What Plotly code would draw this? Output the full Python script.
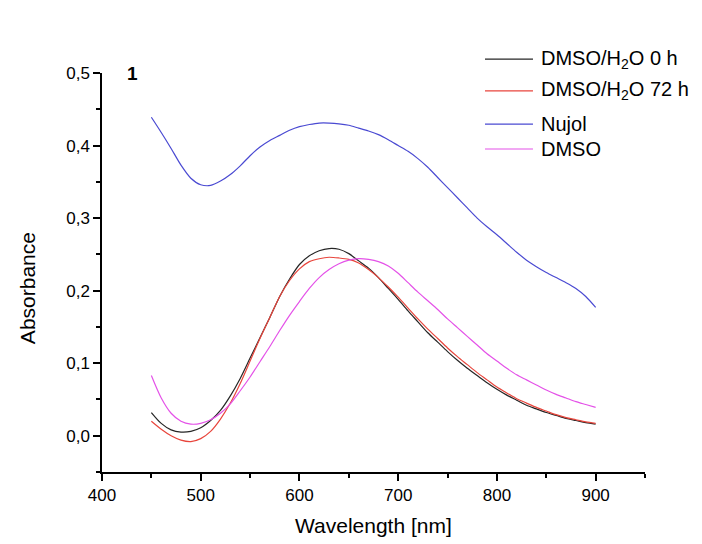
import plotly.graph_objects as go

wavelength = [450, 460, 470, 480, 490, 500, 510, 520, 530, 540, 550, 560, 570, 580, 590,
              600, 610, 620, 630, 640, 650, 660, 670, 680, 690, 700, 710, 720, 730, 740,
              750, 760, 770, 780, 790, 800, 810, 820, 830, 840, 850, 860, 870, 880, 890, 900]

dmso_h2o_0h = [0.032, 0.017, 0.008, 0.005, 0.006, 0.011, 0.021, 0.035, 0.055, 0.079, 0.107,
               0.135, 0.163, 0.192, 0.216, 0.236, 0.248, 0.255, 0.258, 0.257, 0.251, 0.241,
               0.231, 0.218, 0.203, 0.188, 0.172, 0.157, 0.142, 0.129, 0.116, 0.104, 0.093,
               0.083, 0.073, 0.064, 0.056, 0.049, 0.042, 0.037, 0.032, 0.028, 0.024, 0.021,
               0.018, 0.016]

dmso_h2o_72h = [0.020, 0.009, 0.000, -0.006, -0.008, -0.004, 0.006, 0.023, 0.045, 0.072,
                0.103, 0.134, 0.163, 0.192, 0.214, 0.230, 0.240, 0.244, 0.246, 0.245, 0.243,
                0.238, 0.229, 0.218, 0.205, 0.191, 0.176, 0.161, 0.147, 0.134, 0.121, 0.109,
                0.098, 0.087, 0.077, 0.067, 0.059, 0.051, 0.045, 0.039, 0.034, 0.029, 0.025,
                0.022, 0.019, 0.017]

nujol = [0.439, 0.418, 0.396, 0.373, 0.355, 0.346, 0.345, 0.351, 0.360, 0.372, 0.386, 0.398,
         0.407, 0.414, 0.421, 0.426, 0.429, 0.431, 0.431, 0.430, 0.428, 0.424, 0.420, 0.415,
         0.408, 0.400, 0.392, 0.382, 0.370, 0.356, 0.342, 0.328, 0.314, 0.300, 0.288, 0.277,
         0.265, 0.253, 0.242, 0.233, 0.225, 0.218, 0.211, 0.203, 0.192, 0.177]

dmso = [0.083, 0.052, 0.031, 0.020, 0.016, 0.017, 0.022, 0.031, 0.044, 0.062, 0.081, 0.102,
        0.123, 0.145, 0.166, 0.185, 0.203, 0.218, 0.229, 0.237, 0.242, 0.244, 0.243, 0.240,
        0.234, 0.224, 0.211, 0.198, 0.186, 0.174, 0.161, 0.149, 0.137, 0.125, 0.113, 0.103,
        0.093, 0.084, 0.077, 0.070, 0.063, 0.057, 0.052, 0.047, 0.043, 0.039]

series_names = ["DMSO/H<sub>2</sub>O 0 h", "DMSO/H<sub>2</sub>O 72 h", "Nujol", "DMSO"]
series_values = [dmso_h2o_0h, dmso_h2o_72h, nujol, dmso]
series_colors = ["#262626", "#e8453c", "#4a4ad2", "#e452e8"]

FONT = "Liberation Sans, Arial, sans-serif"

fig = go.Figure()
for name, vals, color in zip(series_names, series_values, series_colors):
    fig.add_trace(go.Scatter(x=wavelength, y=vals, mode="lines", name=name,
                             showlegend=False,
                             line=dict(color=color, width=1.2, shape="spline", smoothing=0.8)))

# manual legend (line samples + labels) placed like the original
legend_rows_y = [1.035, 0.955, 0.872, 0.8095]
shapes = []
annotations = []
for name, color, yy in zip(series_names, series_colors, legend_rows_y):
    shapes.append(dict(type="line", xref="paper", yref="paper", x0=0.7053, x1=0.7937,
                       y0=yy, y1=yy, line=dict(color=color, width=1.2)))
    annotations.append(dict(text=name, x=0.8048, y=yy, xref="paper", yref="paper",
                            xanchor="left", yanchor="middle", showarrow=False,
                            font=dict(family=FONT, size=20, color="black")))

axis_common = dict(showline=True, linecolor="black", linewidth=1.5, ticks="outside",
                   tickcolor="black", tickwidth=1.5, ticklen=7, showgrid=False,
                   zeroline=False, mirror=False,
                   tickfont=dict(family=FONT, size=17, color="black"))

annotations += [
    dict(text="<b>1</b>", x=431, y=0.5, xref="x", yref="y", showarrow=False,
         font=dict(family=FONT, size=19, color="black")),
    dict(text="Wavelength [nm]", x=0.5, y=-0.133, xref="paper", yref="paper",
         xanchor="center", yanchor="middle", showarrow=False,
         font=dict(family=FONT, size=21, color="black")),
    dict(text="Absorbance", x=-0.138, y=0.461, xref="paper", yref="paper", textangle=-90,
         xanchor="center", yanchor="middle", showarrow=False,
         font=dict(family=FONT, size=21, color="black")),
]

# the page body adds an 8 px offset, so the figure is 8 px smaller with 8 px less left/top margin
fig.update_layout(
    width=694, height=536,
    margin=dict(l=94, r=57, t=65, b=72, autoexpand=False),
    plot_bgcolor="white", paper_bgcolor="white",
    separators=",.",
    showlegend=False,
    font=dict(family=FONT, color="black"),
    xaxis=dict(range=[400, 950], dtick=100, tick0=400,
               minor=dict(dtick=50, ticks="outside", ticklen=4, tickcolor="black", tickwidth=1.5),
               **axis_common),
    yaxis=dict(range=[-0.05, 0.5], dtick=0.1, tick0=0, tickformat=".1f",
               minor=dict(dtick=0.05, ticks="outside", ticklen=4, tickcolor="black", tickwidth=1.5),
               **axis_common),
    shapes=shapes,
    annotations=annotations,
)

fig.write_html("out.html")
